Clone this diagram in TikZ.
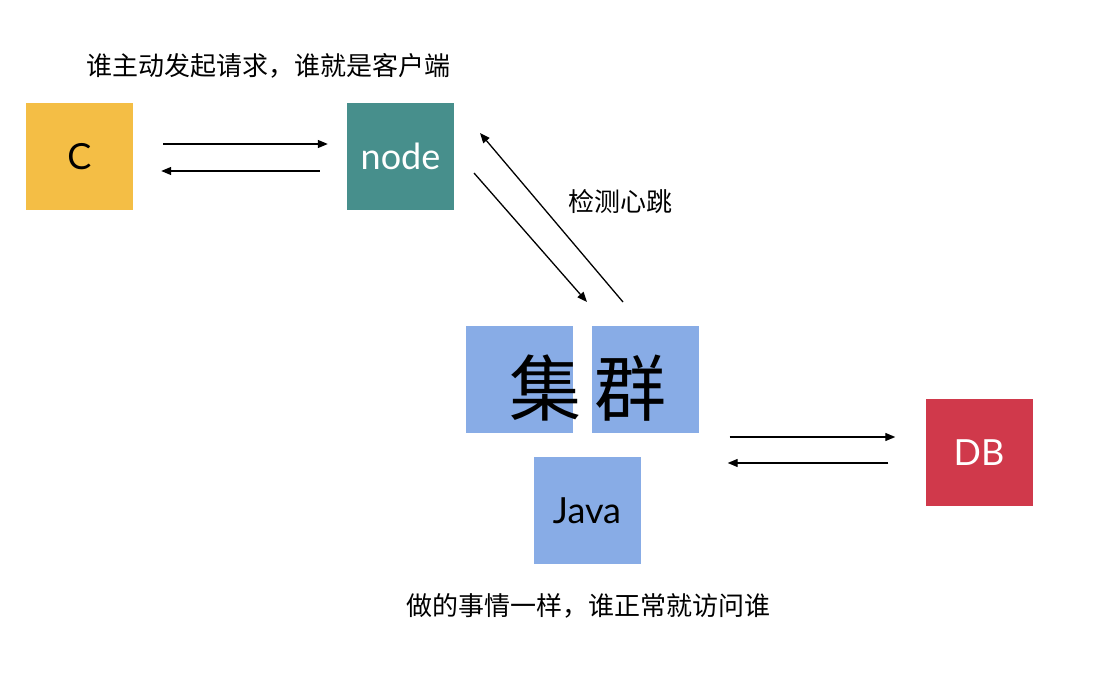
\documentclass[tikz,border=0pt]{standalone}
\usepackage{fontspec}
\setmainfont{Lato}
\newfontfamily\cjk{Noto Sans CJK SC}
\usetikzlibrary{arrows.meta}
\definecolor{cgold}{HTML}{F4BE45}
\definecolor{cteal}{HTML}{478F8C}
\definecolor{cblue}{HTML}{88ACE6}
\definecolor{cred}{HTML}{D0394B}
\begin{document}
\begin{tikzpicture}[x=1pt,y=-1pt,
  box/.style={draw=none,minimum width=107pt,minimum height=107pt,inner sep=0pt,font=\fontsize{36}{42}\selectfont},
  lbl/.style={font=\cjk\fontsize{26}{30}\selectfont,inner sep=0pt},
  arr/.style={line width=1.3pt,-{Triangle[length=10pt,width=8pt]}}]
\useasboundingbox (0,0) rectangle (1104,700);
\node[box,fill=cgold] (c) at (79.5,156.5) {C};
\node[box,fill=cteal,text=white] (nd) at (400.5,156.5) {node};
\node[box,fill=cblue] (b1) at (519,379.5) {};
\node[box,fill=cblue] (b2) at (645,379.5) {};
\node[box,fill=cblue] (java) at (587,510.5) {Java};
\node[box,fill=cred,text=white] (db) at (979,452.5) {DB};
\node[font=\cjk\fontsize{72}{80}\selectfont,inner sep=0pt] (jq) at (588,388) {集\hspace{13pt}群};
\node[lbl] (t1) at (268,66) {谁主动发起请求，谁就是客户端};
\node[lbl] (t2) at (620,202) {检测心跳};
\node[lbl] (t3) at (588,606) {做的事情一样，谁正常就访问谁};
\draw[arr,shorten <=30pt,shorten >=19pt] ([yshift=12.5pt]c.east) -- ([yshift=12.5pt]nd.west);
\draw[arr,shorten <=27pt,shorten >=28pt] ([yshift=-14.5pt]nd.west) -- ([yshift=-14.5pt]c.east);
\coordinate (p1) at (474,173);
\coordinate (p2) at (587,302);
\coordinate (p3) at (623,302);
\coordinate (p4) at (480,133);
\draw[arr] (p1) -- (p2);
\draw[arr] (p3) -- (p4);
\draw[arr,shorten <=31pt,shorten >=30pt] ([yshift=-57.5pt]b2.east) -- ([yshift=15.5pt]db.west);
\draw[arr,shorten <=37pt,shorten >=29pt] ([yshift=-10.5pt]db.west) -- ([yshift=-83.5pt]b2.east);
\end{tikzpicture}
\end{document}
